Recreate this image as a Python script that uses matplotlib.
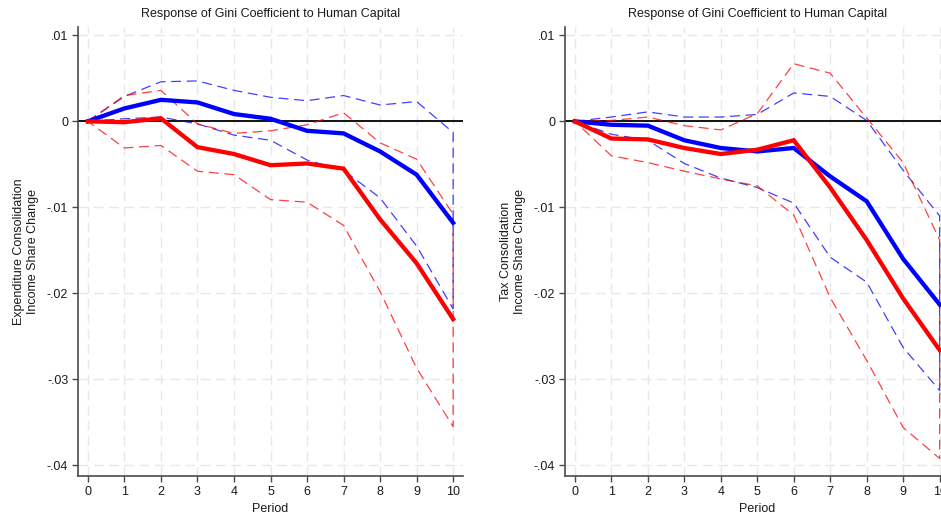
import numpy as np
import matplotlib
matplotlib.use("Agg")
import matplotlib.pyplot as plt

plt.rcParams['font.family'] = ['Liberation Sans', 'DejaVu Sans']

periods = np.arange(11)

# Expenditure consolidation: point responses and confidence bands
exp_blue = [0, 0.0015, 0.0025, 0.0022, 0.00085, 0.0003, -0.0011, -0.0014, -0.0035, -0.0062, -0.0118]
exp_blue_hi = [0, 0.0029, 0.0046, 0.0047, 0.0036, 0.0028, 0.0024, 0.0030, 0.0019, 0.0023, -0.0013]
exp_blue_lo = [0, 0.0003, 0.0005, -0.0003, -0.0016, -0.0022, -0.0045, -0.0057, -0.0089, -0.0145, -0.0218]
exp_red = [0, -0.0001, 0.00035, -0.0030, -0.0038, -0.0051, -0.0049, -0.0055, -0.0114, -0.0165, -0.0230]
exp_red_hi = [0, 0.0030, 0.0036, -0.0003, -0.0014, -0.0011, -0.0004, 0.0010, -0.0025, -0.0044, -0.0108]
exp_red_lo = [0, -0.0031, -0.0028, -0.0058, -0.0062, -0.0091, -0.0094, -0.0121, -0.0198, -0.0287, -0.0355]

# Tax consolidation: point responses and confidence bands
tax_blue = [0, -0.0004, -0.0005, -0.0022, -0.0031, -0.0035, -0.0031, -0.0064, -0.0093, -0.0160, -0.0213]
tax_blue_hi = [0, 0.0005, 0.0011, 0.0005, 0.0005, 0.0008, 0.0033, 0.0029, 0.0001, -0.0057, -0.0110]
tax_blue_lo = [0, -0.0015, -0.0022, -0.0049, -0.0066, -0.0077, -0.0095, -0.0158, -0.0187, -0.0263, -0.0313]
tax_red = [0, -0.0020, -0.0021, -0.0031, -0.0038, -0.0033, -0.0022, -0.0077, -0.0138, -0.0206, -0.0266]
tax_red_hi = [0, 0.0001, 0.0005, -0.0005, -0.0010, 0.0009, 0.0067, 0.0056, 0.0004, -0.0048, -0.0138]
tax_red_lo = [0, -0.0040, -0.0048, -0.0058, -0.0067, -0.0075, -0.0109, -0.0205, -0.0278, -0.0356, -0.0392]

y_ticks = [0.01, 0, -0.01, -0.02, -0.03, -0.04]
y_ticklabels = ['.01', '0', '-.01', '-.02', '-.03', '-.04']
title = 'Response of Gini Coefficient to Human Capital'
ylabels = ['Expenditure Consolidation\nIncome Share Change',
           'Tax Consolidation\nIncome Share Change']

BLUE = '#0000ff'
RED = '#ff0000'
AXIS = '#4a4a4a'
TEXT = '#1a1a1a'
FS = 9

fig = plt.figure(figsize=(9.41, 5.16), dpi=100)
W, H = 941, 516


def px_axes(x0, x1, y0, y1):
    return fig.add_axes([x0 / W, 1 - y1 / H, (x1 - x0) / W, (y1 - y0) / H])


def band(ax, hi, lo, color):
    xs = np.r_[periods, periods[::-1]]
    ys = np.r_[hi, lo[::-1]]
    ax.plot(xs, ys, color=color, lw=0.9, ls=(0, (8, 4.5)), alpha=0.75, zorder=3)


def panel(ax, blue, blue_hi, blue_lo, red, red_hi, red_lo, ylab):
    ax.set_xlim(-0.27, 10.27)
    ax.set_ylim(-0.04124, 0.01097)
    ax.set_xticks(periods)
    ax.set_xticklabels([str(p) for p in periods])
    ax.set_yticks(y_ticks)
    ax.set_yticklabels(y_ticklabels)
    ax.grid(True, color='#e8e8e8', lw=1.0, ls=(0, (7, 4)), zorder=0)
    ax.axhline(0, color='black', lw=1.3, zorder=2)
    band(ax, blue_hi, blue_lo, BLUE)
    band(ax, red_hi, red_lo, RED)
    ax.plot(periods, blue, color=BLUE, lw=3.1, zorder=4, solid_joinstyle='miter')
    ax.plot(periods, red, color=RED, lw=3.1, zorder=5, solid_joinstyle='miter')
    for s in ('top', 'right'):
        ax.spines[s].set_visible(False)
    for s in ('left', 'bottom'):
        ax.spines[s].set_color(AXIS)
        ax.spines[s].set_linewidth(1.2)
    ax.tick_params(axis='both', direction='out', length=4, width=1.0,
                   color=AXIS, labelsize=FS, labelcolor=TEXT, pad=3)
    ax.set_title(title, fontsize=FS, color=TEXT, pad=7)
    ax.set_xlabel('Period', fontsize=FS, color=TEXT, labelpad=4)
    ax.set_ylabel(ylab, fontsize=FS, color=TEXT, labelpad=6,
                  linespacing=1.2)
    ax.set_facecolor('white')


ax1 = px_axes(78, 463, 27, 476)
panel(ax1, exp_blue, exp_blue_hi, exp_blue_lo, exp_red, exp_red_hi, exp_red_lo, ylabels[0])

ax2 = px_axes(565, 949.5, 27, 476)
panel(ax2, tax_blue, tax_blue_hi, tax_blue_lo, tax_red, tax_red_hi, tax_red_lo, ylabels[1])

fig.savefig('out.png', dpi=100, facecolor='white')
